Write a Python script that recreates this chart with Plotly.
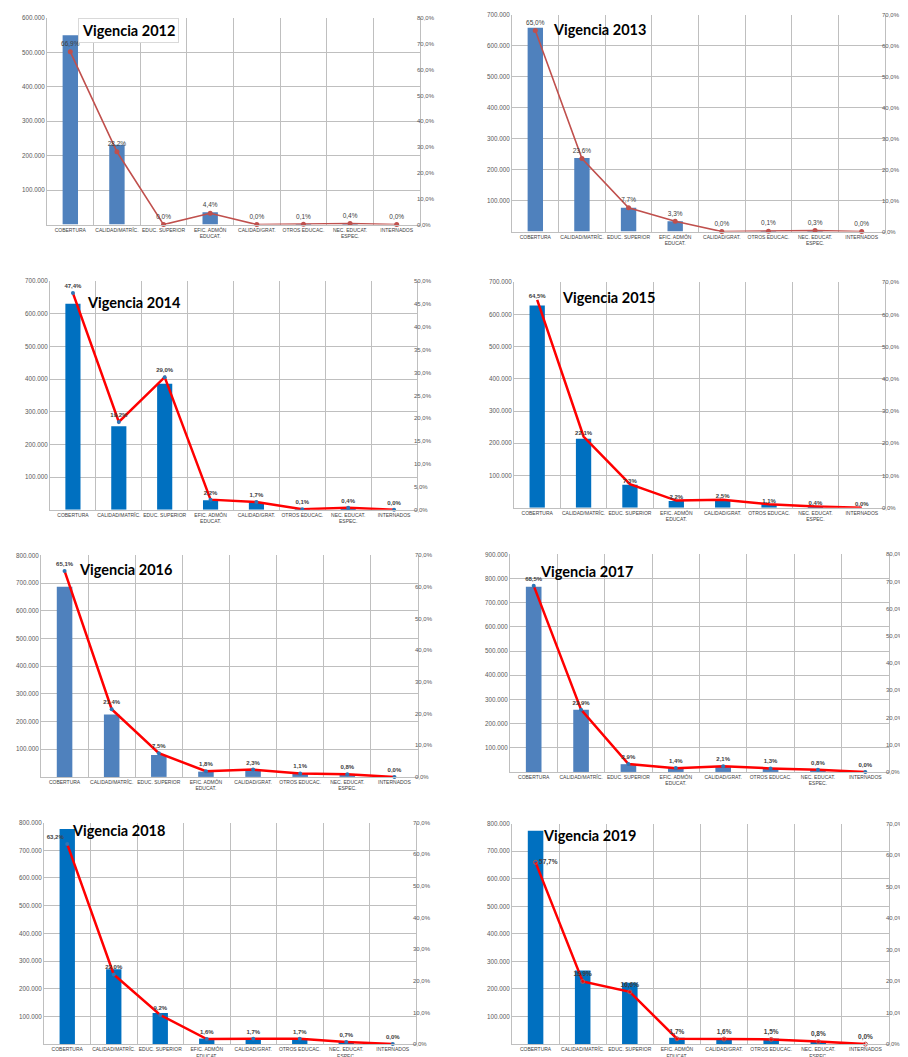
import plotly.graph_objects as go

W, H = 908, 1057

categories = ["COBERTURA", "CALIDAD/MATRÍC.", "EDUC. SUPERIOR", "EFIC. ADMÓN<br>EDUCAT.",
              "CALIDAD/GRAT.", "OTROS EDUCAC.", "NEC. EDUCAT.<br>ESPEC.", "INTERNADOS"]

years = [2012, 2013, 2014, 2015, 2016, 2017, 2018, 2019]

bars_2012 = [550000, 232000, 0, 36000, 0, 800, 3300, 0]
bars_2013 = [659000, 238000, 77000, 33000, 0, 1000, 3000, 0]
bars_2014 = [631000, 256000, 386000, 29000, 23000, 1300, 5000, 0]
bars_2015 = [628000, 214000, 71000, 21000, 24000, 11000, 4000, 0]
bars_2016 = [687000, 225000, 79000, 19000, 24000, 12000, 8000, 0]
bars_2017 = [766000, 257000, 32000, 16000, 23000, 15000, 9000, 0]
bars_2018 = [777000, 270000, 112000, 20000, 21000, 21000, 9000, 0]
bars_2019 = [774000, 267000, 223000, 23000, 21000, 20000, 11000, 0]

pct_2012 = [66.9, 28.2, 0.0, 4.4, 0.0, 0.1, 0.4, 0.0]
pct_2013 = [65.0, 23.6, 7.7, 3.3, 0.0, 0.1, 0.3, 0.0]
pct_2014 = [47.4, 19.2, 29.0, 2.2, 1.7, 0.1, 0.4, 0.0]
pct_2015 = [64.5, 22.1, 7.3, 2.2, 2.5, 1.1, 0.4, 0.0]
pct_2016 = [65.1, 21.4, 7.5, 1.8, 2.3, 1.1, 0.8, 0.0]
pct_2017 = [68.5, 22.9, 2.9, 1.4, 2.1, 1.3, 0.8, 0.0]
pct_2018 = [63.2, 22.0, 9.2, 1.6, 1.7, 1.7, 0.7, 0.0]
pct_2019 = [57.7, 19.9, 16.6, 1.7, 1.6, 1.5, 0.8, 0.0]

bars = [bars_2012, bars_2013, bars_2014, bars_2015, bars_2016, bars_2017, bars_2018, bars_2019]
pcts = [pct_2012, pct_2013, pct_2014, pct_2015, pct_2016, pct_2017, pct_2018, pct_2019]

left_max = [600000, 700000, 700000, 700000, 800000, 900000, 800000, 800000]
right_max = [80, 70, 50, 70, 70, 80, 70, 70]
right_step = [10, 10, 5, 10, 10, 10, 10, 10]

# plot-area pixel boxes (x0, x1, y0, y1)
boxes = [(39, 412, 6, 214), (504, 877, 3, 221),
         (42, 409, 271, 501), (506, 877, 272, 499),
         (33, 410, 547, 770), (502, 881, 546, 765),
         (36, 408, 816, 1039), (504, 881, 817, 1039)]
title_pos = [(120, 19), (591, 18), (126, 292), (600, 287),
             (117, 561), (578, 563), (110, 824), (581, 829)]

bar_colors = ["#4F81BD", "#4F81BD", "#0070C0", "#0070C0", "#4F81BD", "#4F81BD", "#0070C0", "#0070C0"]

fig = go.Figure()
layout = dict(width=W, height=H, margin=dict(l=0, r=0, t=0, b=0),
              paper_bgcolor="white", plot_bgcolor="white", showlegend=False,
              separators=",.", bargap=0.67, annotations=[],
              font=dict(family="Liberation Sans, Arial", color="#404040"))

GRID = "#BFBFBF"
for i in range(8):
    xa = "x" if i == 0 else f"x{i+1}"
    ya1 = f"y{2*i+1}" if i > 0 else "y"
    ya2 = f"y{2*i+2}"
    x0, x1, y0, y1 = boxes[i]
    dx = [x0 / W, x1 / W]
    dy = [1 - y1 / H, 1 - y0 / H]

    fig.add_trace(go.Bar(x=categories, y=bars[i], xaxis=xa, yaxis=ya1,
                         marker=dict(color=bar_colors[i], line=dict(width=0)),
                         hoverinfo="skip"))

    if i < 2:
        line = dict(color="#C0504D", width=1.6)
        marker = dict(size=5, color="#C0504D", symbol="circle")
        mode = "lines+markers+text"
        tt = "%{y:.1f}%"
        tfont = dict(size=6.5, color="#404040")
    elif i == 3:
        line = dict(color="#FF0000", width=2.5)
        marker = dict(size=1)
        mode = "lines+text"
        tt = "<b>%{y:.1f}%</b>"
        tfont = dict(size=6, color="#404040")
    elif i == 7:
        line = dict(color="#FF0000", width=2.5)
        marker = dict(size=4, color="#C0504D", symbol="circle-open", line=dict(color="#C0504D", width=1))
        mode = "lines+markers+text"
        tt = "<b>%{y:.1f}%</b>"
        tfont = dict(size=6.5, color="#404040")
    else:
        line = dict(color="#FF0000", width=2.5)
        marker = dict(size=4, color="#2E75B6", symbol="circle")
        mode = "lines+markers+text"
        tt = "<b>%{y:.1f}%</b>"
        tfont = dict(size=6, color="#404040")

    tpos = ["top center"] * 8
    if i == 6:
        tpos[0] = "top left"
    if i == 7:
        tpos[0] = "middle right"

    fig.add_trace(go.Scatter(x=categories, y=pcts[i], xaxis=xa, yaxis=ya2,
                             mode=mode, line=line, marker=marker,
                             texttemplate=tt, textposition=tpos, textfont=tfont,
                             cliponaxis=False, hoverinfo="skip"))

    xkey = "xaxis" if i == 0 else f"xaxis{i+1}"
    y1key = "yaxis" if i == 0 else f"yaxis{2*i+1}"
    y2key = f"yaxis{2*i+2}"

    rvals = list(range(0, right_max[i] + 1, right_step[i]))
    rtext = [f"{v},0%" for v in rvals]

    layout[xkey] = dict(domain=dx, anchor=ya1, type="category",
                        showgrid=True, gridcolor=GRID, gridwidth=1,
                        tickson="boundaries", ticks="", showline=True,
                        linecolor=GRID, linewidth=1, mirror=False,
                        tickfont=dict(size=5, color="#404040"), tickangle=0,
                        fixedrange=True)
    layout[y1key] = dict(domain=dy, anchor=xa, range=[0, left_max[i]],
                         tickvals=list(range(100000, left_max[i] + 1, 100000)),
                         tickformat=",.0f", showgrid=True, gridcolor=GRID,
                         gridwidth=1, zeroline=False, showline=True, mirror=True,
                         linecolor=GRID, ticks="",
                         tickfont=dict(size=6.3, color="#595959"))
    layout[y2key] = dict(overlaying=ya1, anchor="free", position=(x1 - 4) / W,
                         side="right", range=[0, right_max[i]],
                         tickmode="array", tickvals=rvals, ticktext=rtext,
                         showgrid=False, zeroline=False, showline=False,
                         ticks="", ticklen=0,
                         tickfont=dict(size=6, color="#595959"))

    tx, ty = title_pos[i]
    ann = dict(text=f"<b>Vigencia {years[i]}</b>", x=tx / W, y=1 - ty / H,
               xref="paper", yref="paper", showarrow=False,
               xanchor="center", yanchor="middle",
               font=dict(family="Lato, Liberation Sans", size=14.5, color="black"))
    if i == 0:
        ann.update(bgcolor="white", bordercolor="#D9D9D9", borderwidth=1, borderpad=3)
    layout["annotations"].append(ann)

fig.update_layout(**layout)
fig.write_html("out.html")
